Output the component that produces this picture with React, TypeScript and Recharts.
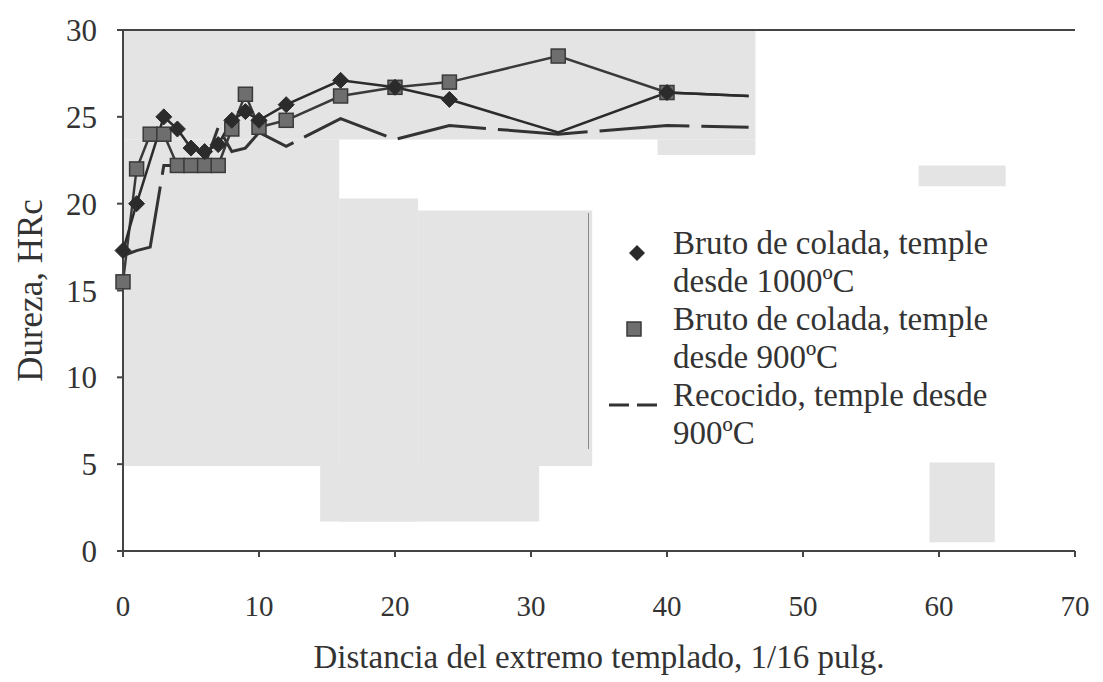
import { LineChart, Line, XAxis, YAxis, ReferenceArea, ReferenceLine } from "recharts";

// Jominy hardness profiles (HRc vs. distance from quenched end, 1/16 in.)
const distAsCast1000 = [0, 1, 3, 4, 5, 6, 7, 8, 9, 10, 12, 16, 20, 24, 32, 40, 46];
const hrcAsCast1000 = [17.3, 20.0, 25.0, 24.3, 23.2, 23.0, 23.4, 24.8, 25.3, 24.8, 25.7, 27.1, 26.7, 26.0, 24.1, 26.4, 26.2];

const distAsCast900 = [0, 1, 2, 3, 4, 5, 6, 7, 8, 9, 10, 12, 16, 20, 24, 32, 40, 46];
const hrcAsCast900 = [15.5, 22.0, 24.0, 24.0, 22.2, 22.2, 22.2, 22.2, 24.3, 26.3, 24.4, 24.8, 26.2, 26.7, 27.0, 28.5, 26.4, 26.2];

const distAnnealed900 = [0, 1, 2, 3, 4, 5, 6, 7, 8, 9, 10, 12, 16, 20, 24, 32, 40, 46];
const hrcAnnealed900 = [17.0, 17.3, 17.5, 22.2, 22.2, 22.2, 22.2, 24.4, 23.0, 23.2, 24.1, 23.3, 24.9, 23.7, 24.5, 24.0, 24.5, 24.4];

const xTicks = [0, 10, 20, 30, 40, 50, 60, 70];
const yTicks = [0, 5, 10, 15, 20, 25, 30];

const seriesNames = [
  ["Bruto de colada, temple", "desde 1000ºC"],
  ["Bruto de colada, temple", "desde 900ºC"],
  ["Recocido, temple desde", "900ºC"],
];

// grey paper tone behind the plot
const paperPatches = [
  { x1: 0, x2: 46.5, y1: 23.7, y2: 30 },
  { x1: 0, x2: 15.9, y1: 4.9, y2: 23.7 },
  { x1: 15.9, x2: 21.7, y1: 1.7, y2: 20.3 },
  { x1: 21.7, x2: 34.5, y1: 4.9, y2: 19.6 },
  { x1: 14.5, x2: 30.6, y1: 1.7, y2: 4.9 },
  { x1: 39.3, x2: 46.5, y1: 22.8, y2: 23.7 },
  { x1: 58.5, x2: 64.9, y1: 21.0, y2: 22.2 },
  { x1: 59.3, x2: 64.1, y1: 0.5, y2: 5.1 },
];

const toPoints = (xs: number[], ys: number[]) => xs.map((x, i) => ({ x, y: ys[i] }));

const FONT = "'Liberation Serif', 'DejaVu Serif', serif";
const INK = "#333";

const Diamond = (props: any) => {
  const { cx, cy, index, payload } = props;
  if (payload.x === 32 || payload.x === 46) return <g key={`d${index}`} />;
  const r = 8;
  return (
    <path
      key={`d${index}`}
      d={`M${cx},${cy - r} L${cx + r},${cy} L${cx},${cy + r} L${cx - r},${cy} Z`}
      fill="#2b2b2b"
      stroke="#2b2b2b"
    />
  );
};

const Square = (props: any) => {
  const { cx, cy, index, payload } = props;
  if (payload.x === 46) return <g key={`s${index}`} />;
  const h = 7;
  return (
    <rect
      key={`s${index}`}
      x={cx - h}
      y={cy - h}
      width={h * 2}
      height={h * 2}
      fill="#6e6e6e"
      stroke="#3a3a3a"
      strokeWidth={1.5}
    />
  );
};

const legendIcons = [
  <svg width={54} height={20}><path d="M28,2 L36,10 L28,18 L20,10 Z" fill="#2b2b2b" /></svg>,
  <svg width={54} height={20}><rect x={18} y={3} width={14} height={14} fill="#6e6e6e" stroke="#3a3a3a" strokeWidth={1.5} /></svg>,
  <svg width={54} height={20}><line x1={0} y1={10} x2={54} y2={10} stroke={INK} strokeWidth={3} strokeDasharray="20 8" /></svg>,
];

function LegendBox() {
  return (
    <div
      style={{
        position: "absolute",
        left: 588,
        top: 213,
        height: 236,
        width: 440,
        borderLeft: "1.5px solid #888",
        fontFamily: FONT,
        fontSize: 33,
        lineHeight: "38px",
        color: INK,
      }}
    >
      <div style={{ position: "absolute", left: 20, top: 11 }}>
        {seriesNames.map((lines, i) => (
          <div key={i} style={{ display: "flex", whiteSpace: "nowrap" }}>
            <div style={{ width: 64, paddingTop: 9 }}>{legendIcons[i]}</div>
            <div>
              {lines.map((t) => (
                <div key={t}>{t}</div>
              ))}
            </div>
          </div>
        ))}
      </div>
    </div>
  );
}

export default function App() {
  return (
    <div style={{ position: "absolute", left: 0, top: 0, width: 1103, height: 682, background: "#fff" }}>
      <LineChart width={1103} height={682} margin={{ top: 30, right: 28, bottom: 51, left: 23 }}>
        {paperPatches.map((p, i) => (
          <ReferenceArea key={i} x1={p.x1} x2={p.x2} y1={p.y1} y2={p.y2} fill="#e4e4e4" fillOpacity={1} stroke="none" ifOverflow="hidden" />
        ))}
        <XAxis
          type="number"
          dataKey="x"
          domain={[0, 70]}
          ticks={xTicks}
          allowDuplicatedCategory={false}
          height={80}
          tickSize={6}
          tickMargin={38}
          tick={{ fontFamily: FONT, fontSize: 29, fill: INK }}
          stroke="#444"
          strokeWidth={2}
          label={{ value: "Distancia del extremo templado, 1/16 pulg.", position: "bottom", offset: 14, style: { fontFamily: FONT, fontSize: 33, fill: INK } }}
        />
        <YAxis
          type="number"
          dataKey="y"
          domain={[0, 30]}
          ticks={yTicks}
          width={100}
          tickSize={6}
          tickMargin={20}
          tick={{ fontFamily: FONT, fontSize: 31, fill: INK }}
          stroke="#444"
          strokeWidth={2}
          label={{ value: "Dureza, HRc", angle: -90, position: "insideLeft", offset: 7, style: { fontFamily: FONT, fontSize: 35, fill: INK, textAnchor: "middle" } }}
        />
        <ReferenceLine y={30} stroke="#444" strokeWidth={2} />
        <Line
          data={toPoints(distAnnealed900, hrcAnnealed900)}
          dataKey="y"
          name="Recocido, temple desde 900ºC"
          stroke={INK}
          strokeWidth={3}
          strokeDasharray="90 12"
          dot={false}
          isAnimationActive={false}
        />
        <Line
          data={toPoints(distAsCast900, hrcAsCast900)}
          dataKey="y"
          name="Bruto de colada, temple desde 900ºC"
          stroke="#3a3a3a"
          strokeWidth={2.5}
          dot={Square}
          isAnimationActive={false}
        />
        <Line
          data={toPoints(distAsCast1000, hrcAsCast1000)}
          dataKey="y"
          name="Bruto de colada, temple desde 1000ºC"
          stroke="#2b2b2b"
          strokeWidth={2.5}
          dot={Diamond}
          isAnimationActive={false}
        />
      </LineChart>
      <LegendBox />
    </div>
  );
}
